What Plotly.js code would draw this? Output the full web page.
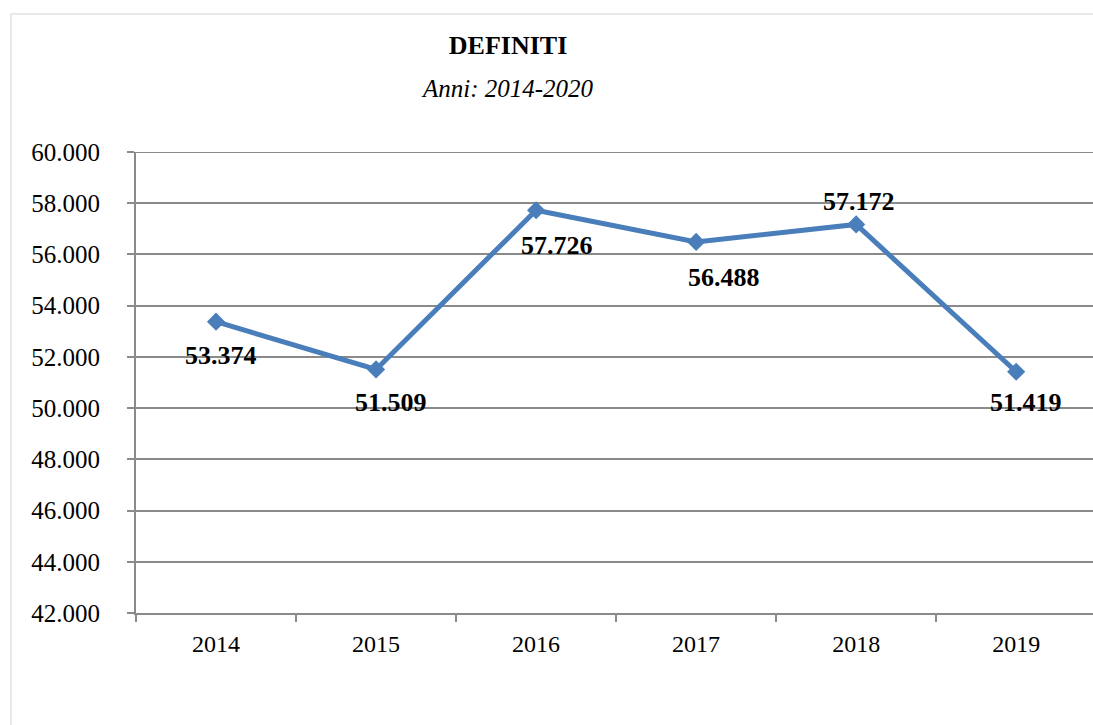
<!DOCTYPE html>
<html>
<head>
<meta charset="utf-8">
<script src="https://cdn.plot.ly/plotly-3.0.1.min.js"></script>
<style>
  html, body { margin: 0; padding: 0; background: #ffffff; }
  #chart { width: 1093px; height: 725px; }
</style>
</head>
<body>
<div id="chart"></div>
<script>
var anni = ['2014', '2015', '2016', '2017', '2018', '2019'];
var definiti = [53374, 51509, 57726, 56488, 57172, 51419];
var titolo = 'DEFINITI';
var sottotitolo = 'Anni: 2014-2020';

var serif = '"Liberation Serif", "Times New Roman", serif';
var blu = '#4a7ebb';
var grigio = '#8a8a8a';

// label nudges in px, Excel places them a bit irregularly
var labelDx = [5, 15, 21, 28, 3, 10];
var labelDy = [-34, -33, -35, -36, 23, -31];

function fmt(v) {
    return String(v).replace(/\B(?=(\d{3})+(?!\d))/g, '.');
}

var data = [{
    x: anni,
    y: definiti,
    type: 'scatter',
    mode: 'lines+markers',
    line: {color: blu, width: 5},
    marker: {symbol: 'diamond', size: 14, color: blu},
    hoverinfo: 'x+y'
}];

// category names look numeric, so annotations use the category index
var annotations = anni.map(function (a, i) {
    return {
        x: i,
        y: definiti[i],
        xref: 'x',
        yref: 'y',
        text: '<b>' + fmt(definiti[i]) + '</b>',
        showarrow: false,
        xshift: labelDx[i],
        yshift: labelDy[i],
        xanchor: 'center',
        yanchor: 'middle',
        font: {family: serif, size: 26, color: '#000000'}
    };
});

annotations.push({
    xref: 'paper',
    yref: 'paper',
    x: 0.3887,
    y: 1.1367,
    xanchor: 'center',
    yanchor: 'middle',
    text: '<i>' + sottotitolo + '</i>',
    showarrow: false,
    font: {family: serif, size: 25, color: '#000000'}
});

var yMin = 42000, yMax = 60000;

var layout = {
    width: 1093,
    height: 725,
    margin: {l: 136, r: 0, t: 152, b: 112},
    paper_bgcolor: '#ffffff',
    plot_bgcolor: '#ffffff',
    showlegend: false,
    separators: ',.',
    title: {
        text: '<b>' + titolo + '</b>',
        font: {family: serif, size: 26, color: '#000000'},
        xref: 'container',
        yref: 'container',
        x: 0.4648,
        y: 0.938,
        xanchor: 'center',
        yanchor: 'middle'
    },
    xaxis: {
        type: 'category',
        range: [-0.5, 5.48],
        showgrid: false,
        zeroline: false,
        showline: true,
        linecolor: grigio,
        linewidth: 2,
        ticks: 'outside',
        tickson: 'boundaries',
        ticklen: 7,
        tickwidth: 2,
        tickcolor: grigio,
        ticklabelstandoff: 8,
        tickfont: {family: serif, size: 24, color: '#000000'}
    },
    yaxis: {
        range: [yMin, yMax],
        dtick: 2000,
        tick0: yMin,
        tickformat: ',d',
        showgrid: true,
        gridcolor: grigio,
        gridwidth: 2,
        zeroline: false,
        showline: true,
        linecolor: grigio,
        linewidth: 2,
        ticks: 'outside',
        ticklen: 7,
        tickwidth: 2,
        tickcolor: grigio,
        ticklabelstandoff: 22,
        tickfont: {family: serif, size: 25, color: '#000000'}
    },
    shapes: [{
        type: 'rect',
        xref: 'paper',
        yref: 'paper',
        x0: -0.1306,
        x1: 1.02,
        y0: -0.25,
        y1: 1.2993,
        line: {color: '#e2e2e2', width: 1.5},
        fillcolor: 'rgba(0,0,0,0)',
        layer: 'below'
    }, {
        // top gridline, plotly skips the one on the range edge
        type: 'line',
        xref: 'paper',
        yref: 'y',
        x0: 0,
        x1: 1,
        y0: yMax,
        y1: yMax,
        line: {color: grigio, width: 2},
        layer: 'below'
    }],
    annotations: annotations
};

Plotly.newPlot('chart', data, layout, {displayModeBar: false, staticPlot: true});
</script>
</body>
</html>
